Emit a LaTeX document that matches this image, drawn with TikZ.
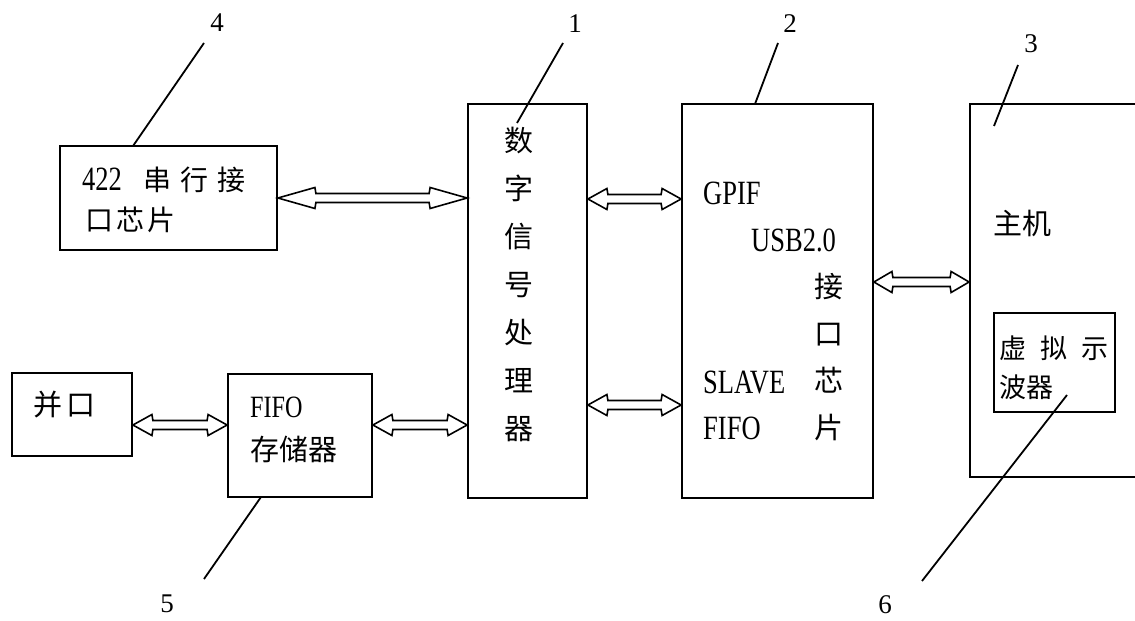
\documentclass[tikz,border=0pt]{standalone}
\usepackage{fontspec}
\setmainfont{Liberation Serif}
\newfontfamily\cjk{Noto Sans CJK SC}
\newfontfamily\lat[FakeStretch=0.78]{Liberation Serif}
\usetikzlibrary{calc}
\tikzset{
  box/.style={draw, line width=1.8pt, rectangle, inner sep=0pt},
  arrline/.style={draw, line width=1.6pt, line join=miter, fill=white},
  leader/.style={line width=1.8pt},
  num/.style={font=\fontsize{27}{30}\selectfont, inner sep=0pt},
  cn/.style={font=\cjk\fontsize{29}{34}\selectfont, inner sep=0pt, anchor=west},
  en/.style={font=\lat\fontsize{34}{38}\selectfont, inner sep=0pt, anchor=west},
  col/.style={font=\cjk\fontsize{29}{48}\selectfont, inner sep=0pt, align=center},
}
% hollow double-headed horizontal arrow: #1 left tip, #2 right tip, #3 head length
\newcommand\dbarrow[3]{%
  \draw[arrline] (#1) -- ++(#3,-10.5) -- ++(1,6)
    -- ($(#2)+(-#3-1,-4.5)$) -- ++(1,-6) -- (#2) -- ++(-#3,10.5) -- ++(-1,-6)
    -- ($(#1)+(#3+1,4.5)$) -- ++(-1,6) -- cycle;}
\begin{document}
\begin{tikzpicture}[x=1pt,y=-1pt]
\useasboundingbox (0,0) rectangle (1135,621);
\clip (0,0) rectangle (1135,621);

% boxes
\node[box, minimum width=217pt, minimum height=104pt] (b4) at (168.5,198) {};
\node[box, minimum width=119pt, minimum height=394pt] (b1) at (527.5,301) {};
\node[box, minimum width=191pt, minimum height=394pt] (b2) at (777.5,301) {};
\node[box, minimum width=180pt, minimum height=373pt] (b3) at (1060,290.5) {};
\node[box, minimum width=121pt, minimum height=99pt] (b6) at (1054.5,362.5) {};
\node[box, minimum width=120pt, minimum height=83pt] (bp) at (72,414.5) {};
\node[box, minimum width=144pt, minimum height=123pt] (bf) at (300,435.5) {};

% texts
\node[en] (t4a) at (82,180) {422\hspace{22pt}{\cjk\fontsize{28}{32}\selectfont 串\hspace{9pt}行\hspace{9pt}接}};
\node[cn, font=\cjk\fontsize{28}{32}\selectfont] (t4b) at (85,220) {口\hspace{3pt}芯\hspace{3pt}片};
\node[col] (t1) at (519,284) {数\\字\\信\\号\\处\\理\\器};
\node[en] (t2a) at (703,193) {GPIF};
\node[en] (t2b) at (751,240) {USB2.0};
\node[col, font=\cjk\fontsize{29}{47}\selectfont] (t2c) at (829,357.5) {接\\口\\芯\\片};
\node[en] (t2d) at (703,382) {SLAVE};
\node[en] (t2e) at (703,428) {FIFO};
\node[cn] (t3) at (993,223) {主机};
\node[cn, font=\cjk\fontsize{27}{32}\selectfont] (t6a) at (999,348) {虚\hspace{14pt}拟\hspace{14pt}示};
\node[cn, font=\cjk\fontsize{27}{32}\selectfont] (t6b) at (999,387) {波器};
\node[cn] (tp) at (33,405) {并\hspace{4pt}口};
\node[en, font=\lat\fontsize{31}{36}\selectfont] (tfa) at (250,407) {FIFO};
\node[cn] (tfb) at (250,449) {存储器};

% arrow end points
\coordinate (a41) at (b4.east);
\coordinate (a14) at (b1.west |- a41);
\coordinate (a12u) at ([yshift=102pt]b1.east);
\coordinate (a21u) at (b2.west |- a12u);
\coordinate (a12d) at ([yshift=-104pt]b1.east);
\coordinate (a21d) at (b2.west |- a12d);
\coordinate (a23) at ([yshift=19pt]b2.east);
\coordinate (a32) at (b3.west |- a23);
\coordinate (apf) at ([yshift=-10.5pt]bp.east);
\coordinate (afp) at (bf.west |- apf);
\coordinate (af1) at (bf.east |- apf);
\coordinate (a1f) at (b1.west |- apf);

\dbarrow{a41}{a14}{37}
\dbarrow{a12u}{a21u}{19}
\dbarrow{a12d}{a21d}{19}
\dbarrow{a23}{a32}{18}
\dbarrow{apf}{afp}{19}
\dbarrow{af1}{a1f}{19}

% leaders and numbers
\node[num] (n4) at (217,23) {4};
\node[num] (n1) at (575,24) {1};
\node[num] (n2) at (790,24) {2};
\node[num] (n3) at (1031,44) {3};
\node[num] (n5) at (167,604) {5};
\node[num] (n6) at (885,605) {6};

\coordinate (l4a) at (133,146); \coordinate (l4b) at (204,43);
\coordinate (l1a) at (517,123); \coordinate (l1b) at (563,43);
\coordinate (l2a) at (755,104); \coordinate (l2b) at (778,43);
\coordinate (l3a) at (994,126); \coordinate (l3b) at (1018,65);
\coordinate (l5a) at (261,497); \coordinate (l5b) at (204,579);
\coordinate (l6a) at (1067,395); \coordinate (l6b) at (922,581);

\draw[leader] (l4a) -- (l4b);
\draw[leader] (l1a) -- (l1b);
\draw[leader] (l2a) -- (l2b);
\draw[leader] (l3a) -- (l3b);
\draw[leader] (l5a) -- (l5b);
\draw[leader] (l6a) -- (l6b);
\end{tikzpicture}
\end{document}
